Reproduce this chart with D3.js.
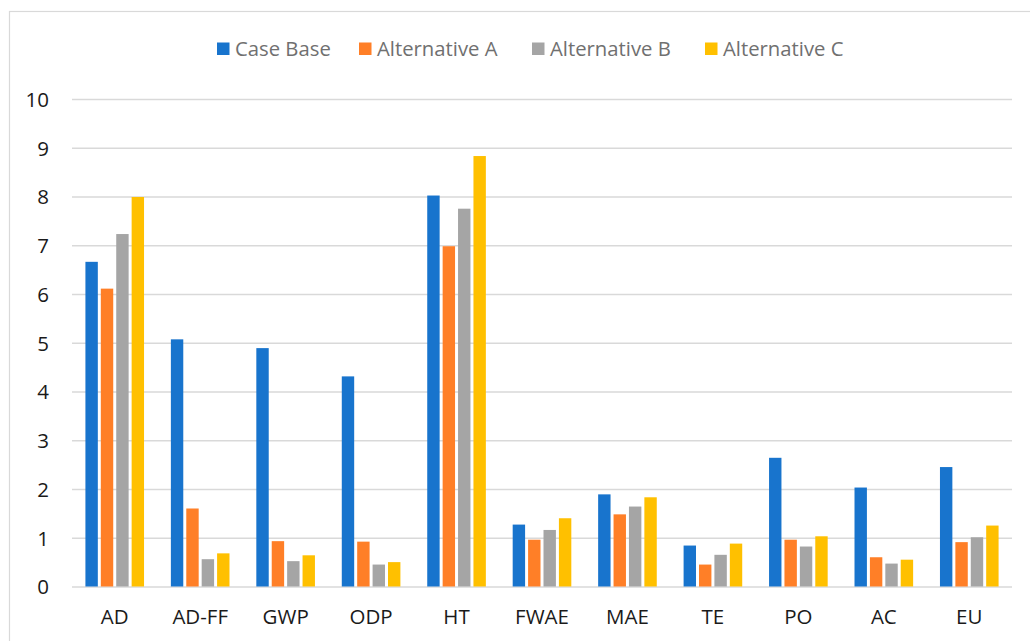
<!DOCTYPE html>
<html>
<head>
<meta charset="utf-8">
<script src="https://cdn.jsdelivr.net/npm/d3@7"></script>
<style>
  html, body { margin: 0; padding: 0; background: #fff; }
  svg { display: block; }
</style>
</head>
<body>
<svg id="chart" width="1030" height="641"></svg>
<script>
const categories = ["AD", "AD-FF", "GWP", "ODP", "HT", "FWAE", "MAE", "TE", "PO", "AC", "EU"];
const seriesNames = ["Case Base", "Alternative A", "Alternative B", "Alternative C"];
const caseBase     = [6.66, 5.07, 4.89, 4.31, 8.02, 1.27, 1.89, 0.84, 2.64, 2.03, 2.45];
const alternativeA = [6.11, 1.60, 0.93, 0.92, 6.98, 0.96, 1.48, 0.45, 0.96, 0.60, 0.91];
const alternativeB = [7.23, 0.56, 0.52, 0.45, 7.75, 1.16, 1.64, 0.65, 0.82, 0.47, 1.01];
const alternativeC = [7.99, 0.68, 0.64, 0.50, 8.83, 1.40, 1.83, 0.88, 1.03, 0.55, 1.25];
const yTicks = [0, 1, 2, 3, 4, 5, 6, 7, 8, 9, 10];
const colors = ["#1874CD", "#FF7F27", "#A5A5A5", "#FFC000"];

const seriesValues = [caseBase, alternativeA, alternativeB, alternativeC];
const FONT = "'Open Sans', 'Liberation Sans', sans-serif";

const svg = d3.select("#chart");

// chart frame
svg.append("rect")
  .attr("x", 9.5).attr("y", 11.5)
  .attr("width", 1040).attr("height", 660)
  .attr("fill", "none").attr("stroke", "#d9d9d9").attr("stroke-width", 1.2);

const x0 = d3.scaleBand().domain(categories).range([72, 1012])
  .paddingInner(0.314).paddingOuter(0.157);
const x1 = d3.scaleBand().domain(seriesNames).range([0, x0.bandwidth()])
  .paddingInner(0.195).paddingOuter(0);
const y = d3.scaleLinear().domain([0, 10]).range([586.5, 99]);

// y axis with gridlines
const yAxis = svg.append("g")
  .attr("transform", "translate(72,0)")
  .call(d3.axisLeft(y).tickValues(yTicks).tickSize(-940).tickPadding(23).tickFormat(d3.format("d")));
yAxis.select(".domain").remove();
yAxis.selectAll(".tick line").attr("stroke", "#d9d9d9").attr("stroke-width", 1.6);
yAxis.selectAll(".tick text")
  .attr("font-family", FONT).attr("font-size", 20.5).attr("fill", "#1a1a1a")
  .attr("dy", "0.36em");

// bars
const groups = svg.append("g").selectAll("g")
  .data(categories)
  .join("g")
  .attr("transform", d => `translate(${x0(d)},0)`);

groups.selectAll("rect")
  .data((c, i) => seriesNames.map((s, k) => ({ s, k, v: seriesValues[k][i] })))
  .join("rect")
  .attr("x", d => x1(d.s))
  .attr("width", x1.bandwidth())
  .attr("y", d => y(d.v))
  .attr("height", d => y(0) - y(d.v))
  .attr("fill", d => colors[d.k]);

// x axis labels
const xAxis = svg.append("g")
  .attr("transform", `translate(0,${y(0)})`)
  .call(d3.axisBottom(x0).tickSize(0));
xAxis.select(".domain").remove();
xAxis.selectAll(".tick text")
  .attr("font-family", FONT).attr("font-size", 20.5).attr("fill", "#1a1a1a")
  .attr("y", 37.5).attr("dy", 0);

// legend
const legendX = [217, 359, 532, 705];
const legend = svg.append("g").selectAll("g")
  .data(seriesNames)
  .join("g")
  .attr("transform", (d, i) => `translate(${legendX[i]},42.5)`);
legend.append("rect")
  .attr("width", 12.5).attr("height", 12.5)
  .attr("fill", (d, i) => colors[i]);
legend.append("text")
  .attr("x", 18).attr("y", 13.2)
  .attr("font-family", FONT).attr("font-size", 20.3).attr("fill", "#707070")
  .text(d => d);
</script>
</body>
</html>
